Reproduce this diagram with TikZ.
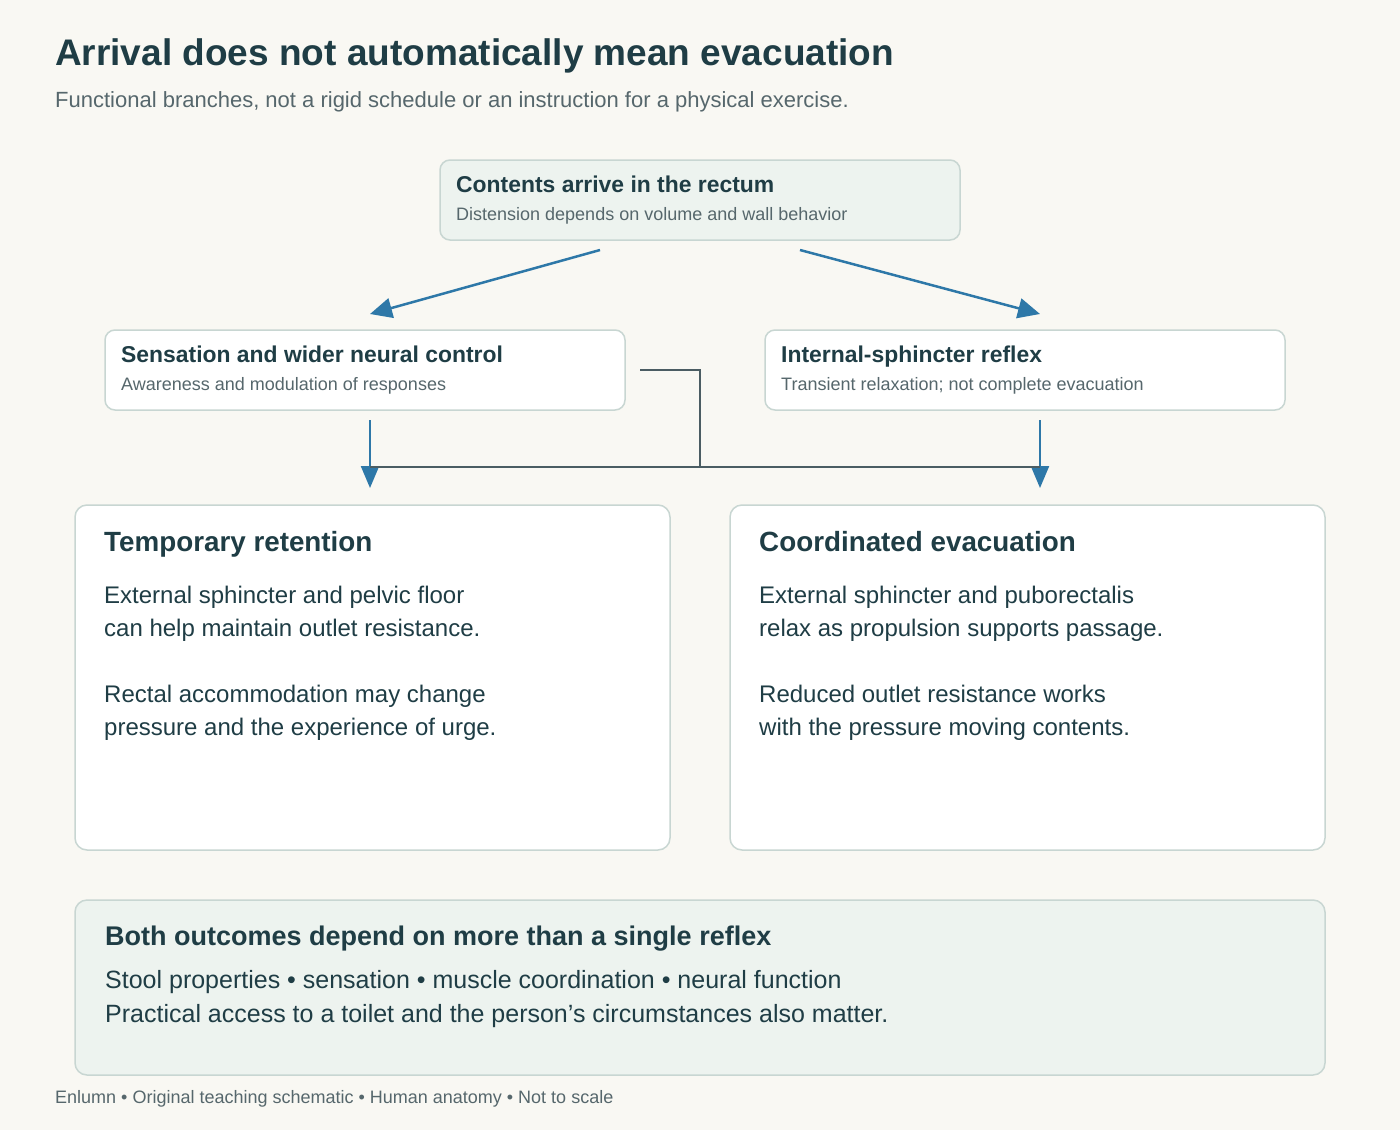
\documentclass[tikz,border=0pt]{standalone}
\usepackage{fontspec}
\setmainfont{Liberation Sans}
\usetikzlibrary{arrows.meta}
\definecolor{bg}{HTML}{F9F8F3}
\definecolor{ink}{HTML}{1F3D45}
\definecolor{sub}{HTML}{56676C}
\definecolor{edge}{HTML}{C8D6D2}
\definecolor{pale}{HTML}{EDF3EF}
\definecolor{blue}{HTML}{2E78A8}
\definecolor{conn}{HTML}{4B5D63}
\tikzset{
  box/.style={draw=edge, line width=1.5pt, rounded corners=10pt},
  txt/.style={anchor=base west, inner sep=0pt, text=ink},
  arr/.style={draw=blue, line width=2.5pt, -{Triangle[length=22pt,width=20pt]}},
  darr/.style={draw=blue, line width=2.2pt, -{Triangle[length=22pt,width=18pt]}},
  cline/.style={draw=conn, line width=2pt},
}
\begin{document}
\begin{tikzpicture}[x=1pt,y=-1pt]
\fill[bg] (0,0) rectangle (1400,1130);
\useasboundingbox (0,0) rectangle (1400,1130);
% title
\node[txt] (title) at (55,65) {\fontsize{37}{44}\selectfont\bfseries Arrival does not automatically mean evacuation};
\node[txt, text=sub] (subtitle) at (55,107) {\fontsize{22}{26}\selectfont Functional branches, not a rigid schedule or an instruction for a physical exercise.};
% top box
\draw[box, fill=pale] (440,160) rectangle (960,240);
\node[txt] (toptitle) at (456,192) {\fontsize{22.9}{27}\selectfont\bfseries Contents arrive in the rectum};
\node[txt, text=sub] (topsub) at (456,220) {\fontsize{18}{21}\selectfont Distension depends on volume and wall behavior};
% mid boxes
\draw[box, fill=white] (105,330) rectangle (625,410);
\node[txt] (ltitle) at (121,362) {\fontsize{22.9}{27}\selectfont\bfseries Sensation and wider neural control};
\node[txt, text=sub] (lsub) at (121,390) {\fontsize{18}{21}\selectfont Awareness and modulation of responses};
\draw[box, fill=white] (765,330) rectangle (1285,410);
\node[txt] (rtitle) at (781,362) {\fontsize{22.9}{27}\selectfont\bfseries Internal-sphincter reflex};
\node[txt, text=sub] (rsub) at (781,390) {\fontsize{18}{21}\selectfont Transient relaxation; not complete evacuation};
% big boxes
\draw[box, rounded corners=12pt, fill=white] (75,505) rectangle (670,850);
\node[txt] (rettitle) at (104,551) {\fontsize{27.8}{33}\selectfont\bfseries Temporary retention};
\node[txt] (ret1) at (104,603) {\fontsize{24}{28}\selectfont External sphincter and pelvic floor};
\node[txt] (ret2) at (104,636) {\fontsize{24}{28}\selectfont can help maintain outlet resistance.};
\node[txt] (ret3) at (104,702) {\fontsize{24}{28}\selectfont Rectal accommodation may change};
\node[txt] (ret4) at (104,735) {\fontsize{24}{28}\selectfont pressure and the experience of urge.};
\draw[box, rounded corners=12pt, fill=white] (730,505) rectangle (1325,850);
\node[txt] (evtitle) at (759,551) {\fontsize{27.8}{33}\selectfont\bfseries Coordinated evacuation};
\node[txt] (ev1) at (759,603) {\fontsize{24}{28}\selectfont External sphincter and puborectalis};
\node[txt] (ev2) at (759,636) {\fontsize{24}{28}\selectfont relax as propulsion supports passage.};
\node[txt] (ev3) at (759,702) {\fontsize{24}{28}\selectfont Reduced outlet resistance works};
\node[txt] (ev4) at (759,735) {\fontsize{24}{28}\selectfont with the pressure moving contents.};
% bottom box
\draw[box, rounded corners=12pt, fill=pale] (75,900) rectangle (1325,1075);
\node[txt] (btitle) at (105,945) {\fontsize{27}{32}\selectfont\bfseries Both outcomes depend on more than a single reflex};
\node[txt] (b1) at (105,988) {\fontsize{25}{30}\selectfont Stool properties • sensation • muscle coordination • neural function};
\node[txt] (b2) at (105,1022) {\fontsize{25}{30}\selectfont Practical access to a toilet and the person’s circumstances also matter.};
% footer
\node[txt, text=sub] (footer) at (55,1103) {\fontsize{18}{21}\selectfont Enlumn • Original teaching schematic • Human anatomy • Not to scale};
% connector points
\coordinate (a1s) at (600,250);
\coordinate (a1e) at (370,314);
\coordinate (a2s) at (800,250);
\coordinate (a2e) at (1040,314);
\coordinate (d1s) at (370,420);
\coordinate (d1e) at (370,488);
\coordinate (d2s) at (1040,420);
\coordinate (d2e) at (1040,488);
\coordinate (cs) at (640,370);
\coordinate (cc) at (700,370);
\coordinate (cj) at (700,467);
\coordinate (hl) at (370,467);
\coordinate (hr) at (1040,467);
\draw[arr] (a1s) -- (a1e);
\draw[arr] (a2s) -- (a2e);
\draw[darr] (d1s) -- (d1e);
\draw[darr] (d2s) -- (d2e);
\draw[cline] (cs) -- (cc) -- (cj);
\draw[cline] (hl) -- (hr);
\end{tikzpicture}
\end{document}
